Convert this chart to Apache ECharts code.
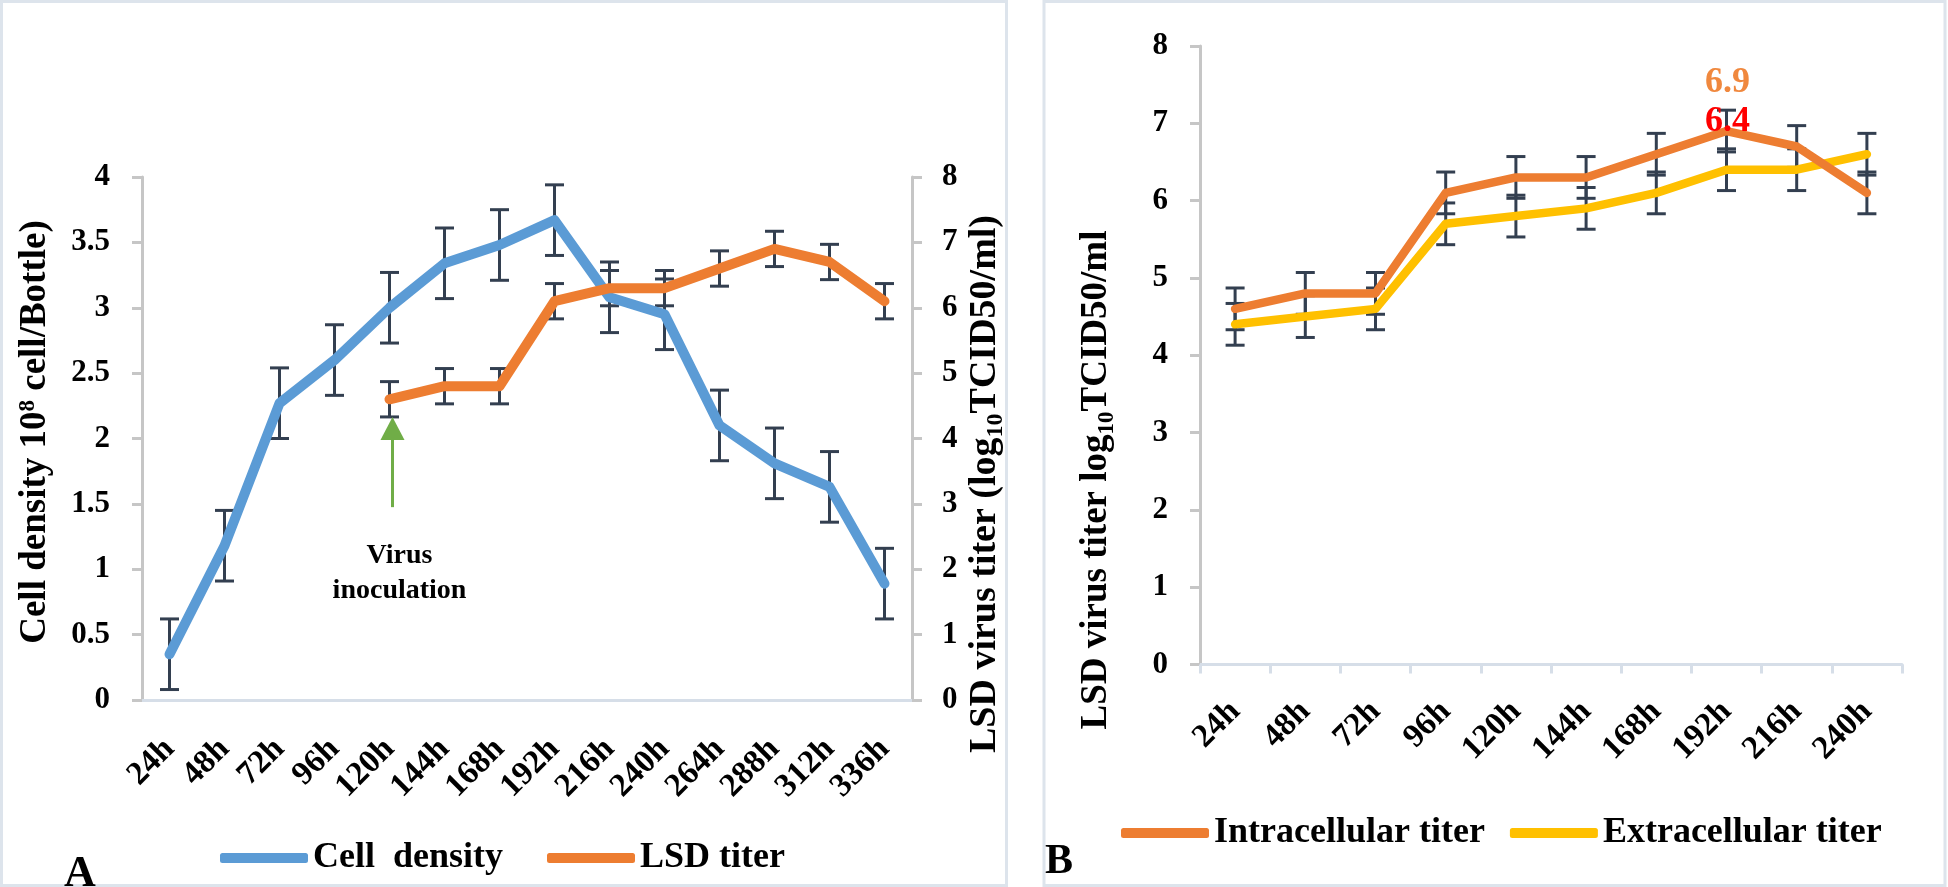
<!DOCTYPE html>
<html><head><meta charset="utf-8">
<script src="https://cdn.jsdelivr.net/npm/echarts@6/dist/echarts.min.js"></script>
<style>html,body{margin:0;padding:0;background:#fff}#c{width:1948px;height:887px}</style>
</head><body><div id="c"></div>
<script>
// ---------- data ----------
const catsA = ['24h','48h','72h','96h','120h','144h','168h','192h','216h','240h','264h','288h','312h','336h'];
const cellDensity    = [0.35,1.18,2.27,2.6,3.0,3.34,3.48,3.67,3.08,2.95,2.1,1.81,1.63,0.89];
const cellDensityErr = [0.27,0.27,0.27,0.27,0.27,0.27,0.27,0.27,0.27,0.27,0.27,0.27,0.27,0.27];
const lsdTiterA      = [null,null,null,null,4.6,4.8,4.8,6.1,6.3,6.3,6.6,6.9,6.7,6.1];
const lsdTiterAErr   = [null,null,null,null,0.27,0.27,0.27,0.27,0.27,0.27,0.27,0.27,0.27,0.27];

const catsB = ['24h','48h','72h','96h','120h','144h','168h','192h','216h','240h'];
const intracellular    = [4.6,4.8,4.8,6.1,6.3,6.3,6.6,6.9,6.7,6.1];
const intracellularErr = [0.27,0.27,0.27,0.27,0.27,0.27,0.27,0.27,0.27,0.27];
const extracellular    = [4.4,4.5,4.6,5.7,5.8,5.9,6.1,6.4,6.4,6.6];
const extracellularErr = [0.27,0.27,0.27,0.27,0.27,0.27,0.27,0.27,0.27,0.27];
const peakIndexB = 7; // 192h, labelled points

// inoculation arrow: [category index, tail value, tip value] on the right axis of panel A
const inocArrow = [[4, 2.95, 4.33]];
const inocTextValue = 1.94;

// ---------- styles ----------
const FF = "'Liberation Serif','Times New Roman',serif";
const BLUE = '#5b9bd5', ORANGE = '#ed7d31', YELLOW = '#ffc000', GREEN = '#70ad47', ERR = '#333f50';
const YAXC = '#c6c6c6', XAXC = '#d6dee8';
const tickFont = {fontFamily: FF, fontWeight: 'bold', fontSize: 31, color: '#000'};
const xFont = {fontFamily: FF, fontWeight: 'bold', fontSize: 33, color: '#000'};

function richFor(size) {
  return {
    sup: {fontFamily: FF, fontWeight: 'bold', fontSize: Math.round(size*0.62), fill: '#000', verticalAlign: 'top', lineHeight: size},
    sub: {fontFamily: FF, fontWeight: 'bold', fontSize: Math.round(size*0.62), fill: '#000', verticalAlign: 'bottom', lineHeight: size + 8},
    n:   {fontFamily: FF, fontWeight: 'bold', fontSize: size, fill: '#000', lineHeight: size}
  };
}
function vTitle(x, y, text, size) {
  return {type: 'text', x, y, rotation: Math.PI / 2, z: 10,
    style: {text, rich: richFor(size), align: 'center', verticalAlign: 'middle',
      fontFamily: FF, fontWeight: 'bold', fontSize: size, fill: '#000'}};
}

function errData(vals, errs) {
  const out = [];
  vals.forEach((v, i) => { if (v != null) out.push([i, v - errs[i], v + errs[i]]); });
  return out;
}
function errRender(params, api) {
  const x = api.value(0);
  const p1 = api.coord([x, api.value(2)]);
  const p2 = api.coord([x, api.value(1)]);
  const hw = 9.5;
  const st = {stroke: ERR, lineWidth: 3};
  return {type: 'group', children: [
    {type: 'line', shape: {x1: p1[0], y1: p1[1], x2: p2[0], y2: p2[1]}, style: st},
    {type: 'line', shape: {x1: p1[0]-hw, y1: p1[1], x2: p1[0]+hw, y2: p1[1]}, style: st},
    {type: 'line', shape: {x1: p2[0]-hw, y1: p2[1], x2: p2[0]+hw, y2: p2[1]}, style: st}
  ]};
}
function arrowRender(params, api) {
  const x = api.value(0);
  const tail = api.coord([x, api.value(1)]);
  const tip = api.coord([x, api.value(2)]);
  const hx = tip[0] + 3, headH = 23, headW = 12;
  return {type: 'group', children: [
    {type: 'line', shape: {x1: hx, y1: tail[1], x2: hx, y2: tip[1] + headH - 2}, style: {stroke: GREEN, lineWidth: 3}},
    {type: 'polygon', shape: {points: [[hx, tip[1]], [hx - headW, tip[1] + headH], [hx + headW, tip[1] + headH]]}, style: {fill: GREEN}}
  ]};
}
function lineSeries(name, data, color, xi, yi, width) {
  return {name, type: 'line', data, xAxisIndex: xi, yAxisIndex: yi, symbol: 'none', z: 5,
    lineStyle: {color, width, cap: 'round', join: 'round'}, itemStyle: {color}, connectNulls: false, animation: false};
}
function errSeries(data, xi, yi) {
  return {type: 'custom', renderItem: errRender, data, xAxisIndex: xi, yAxisIndex: yi, z: 2, silent: true, animation: false};
}
function peakMark(idx, val, color) {
  return {silent: true, animation: false, symbol: 'circle', symbolSize: 0,
    data: [{coord: [idx, val], value: val, label: {show: true, position: 'inside', offset: [1, -48], formatter: String(val),
      fontFamily: FF, fontWeight: 'bold', fontSize: 36, color}}]};
}

const chart = echarts.init(document.getElementById('c'), null, {renderer: 'canvas'});

const lsdA = lineSeries('LSD titer', lsdTiterA.map(v => v == null ? '-' : v), ORANGE, 0, 1, 10);
lsdA.markPoint = {silent: true, animation: false, symbolSize: 0,
  data: [{coord: [inocArrow[0][0], inocTextValue], label: {show: true, position: 'inside', formatter: 'Virus\ninoculation', offset: [10, 0],
    fontFamily: FF, fontWeight: 'bold', fontSize: 28, lineHeight: 35, color: '#000'}}]};

const intrS = lineSeries('Intracellular titer', intracellular, ORANGE, 1, 2, 8.5);
intrS.z = 6;
intrS.markPoint = peakMark(peakIndexB, intracellular[peakIndexB], '#f0883e');
const extrS = lineSeries('Extracellular titer', extracellular, YELLOW, 1, 2, 8.5);
extrS.markPoint = peakMark(peakIndexB, extracellular[peakIndexB], '#ff0000');
extrS.markPoint.z = 20;

const option = {
  backgroundColor: '#fff',
  animation: false,
  graphic: [
    {type: 'rect', shape: {x: 1.5, y: 1.5, width: 1005, height: 884}, style: {fill: 'none', stroke: '#dde4ec', lineWidth: 3}, z: 0},
    {type: 'rect', shape: {x: 1044, y: 1.5, width: 901, height: 884}, style: {fill: 'none', stroke: '#dde4ec', lineWidth: 3}, z: 0},
    {type: 'text', left: 64, top: 853, style: {text: 'A', fontFamily: FF, fontWeight: 'bold', fontSize: 44, fill: '#000'}},
    {type: 'text', left: 1045, top: 841, style: {text: 'B', fontFamily: FF, fontWeight: 'bold', fontSize: 42, fill: '#000'}},
    vTitle(35, 432, '{n|Cell density 10}{sup|8}{n| cell/Bottle)}', 37),
    vTitle(985, 484, '{n|LSD virus titer (log}{sub|10}{n|TCID50/ml)}', 38),
    vTitle(1096, 480, '{n|LSD virus titer log}{sub|10}{n|TCID50/ml}', 37)
  ],
  legend: [
    {data: ['Cell density', 'LSD titer'], left: 215, top: 835, itemWidth: 88, itemHeight: 10, itemGap: 44, icon: 'roundRect',
      formatter: n => n === 'Cell density' ? 'Cell  density' : n,
      textStyle: {fontFamily: FF, fontWeight: 'bold', fontSize: 36, color: '#000'}},
    {data: ['Intracellular titer', 'Extracellular titer'], left: 1116, top: 810, itemWidth: 88, itemHeight: 10, itemGap: 25, icon: 'roundRect',
      textStyle: {fontFamily: FF, fontWeight: 'bold', fontSize: 36, color: '#000'}}
  ],
  grid: [
    {left: 142, top: 177, width: 770, height: 523, containLabel: false},
    {left: 1200, top: 46, width: 702, height: 618.5, containLabel: false}
  ],
  xAxis: [
    {type: 'category', gridIndex: 0, data: catsA, boundaryGap: true,
      axisLine: {lineStyle: {color: XAXC, width: 3}}, axisTick: {show: false},
      axisLabel: Object.assign({rotate: 45, margin: 44, interval: 0}, xFont)},
    {type: 'category', gridIndex: 1, data: catsB, boundaryGap: true,
      axisLine: {lineStyle: {color: XAXC, width: 3}}, axisTick: {show: true, length: 9, lineStyle: {color: XAXC, width: 3}},
      axisLabel: Object.assign({rotate: 45, margin: 42, interval: 0}, xFont)}
  ],
  yAxis: [
    {type: 'value', gridIndex: 0, min: 0, max: 4, interval: 0.5, position: 'left',
      axisLine: {show: true, lineStyle: {color: YAXC, width: 3}}, axisTick: {show: true, length: 10, lineStyle: {color: YAXC, width: 3}},
      splitLine: {show: false}, axisLabel: Object.assign({margin: 32}, tickFont)},
    {type: 'value', gridIndex: 0, min: 0, max: 8, interval: 1, position: 'right',
      axisLine: {show: true, lineStyle: {color: YAXC, width: 3}}, axisTick: {show: true, length: 10, lineStyle: {color: YAXC, width: 3}},
      splitLine: {show: false}, axisLabel: Object.assign({margin: 30}, tickFont)},
    {type: 'value', gridIndex: 1, min: 0, max: 8, interval: 1, position: 'left',
      axisLine: {show: true, lineStyle: {color: YAXC, width: 3}}, axisTick: {show: true, length: 10, lineStyle: {color: YAXC, width: 3}},
      splitLine: {show: false}, axisLabel: Object.assign({margin: 32}, tickFont)}
  ],
  series: [
    errSeries(errData(cellDensity, cellDensityErr), 0, 0),
    errSeries(errData(lsdTiterA, lsdTiterAErr), 0, 1),
    {type: 'custom', renderItem: arrowRender, data: inocArrow, xAxisIndex: 0, yAxisIndex: 1, z: 4, silent: true, animation: false},
    lineSeries('Cell density', cellDensity, BLUE, 0, 0, 10),
    lsdA,
    errSeries(errData(intracellular, intracellularErr), 1, 2),
    errSeries(errData(extracellular, extracellularErr), 1, 2),
    intrS,
    extrS
  ]
};
chart.setOption(option);
</script></body></html>
